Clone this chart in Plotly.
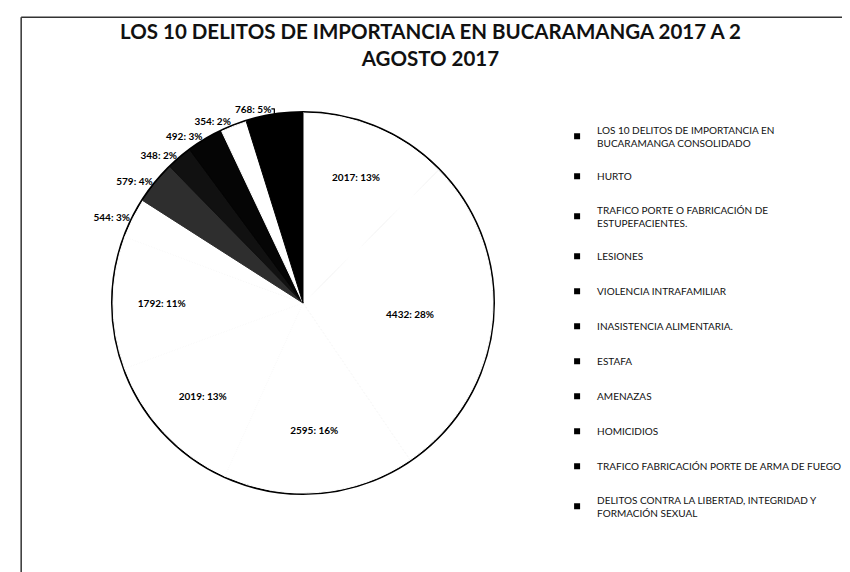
import plotly.graph_objects as go

categories = [
    "LOS 10 DELITOS DE IMPORTANCIA EN<br>BUCARAMANGA CONSOLIDADO",
    "HURTO",
    "TRAFICO PORTE O FABRICACIÓN DE<br>ESTUPEFACIENTES.",
    "LESIONES",
    "VIOLENCIA INTRAFAMILIAR",
    "INASISTENCIA ALIMENTARIA.",
    "ESTAFA",
    "AMENAZAS",
    "HOMICIDIOS",
    "TRAFICO FABRICACIÓN PORTE DE ARMA DE FUEGO",
    "DELITOS CONTRA LA LIBERTAD, INTEGRIDAD Y<br>FORMACIÓN SEXUAL",
]
values = [2017, 4432, 2595, 2019, 1792, 544, 579, 348, 492, 354, 768]
slice_colors = ["#ffffff", "#ffffff", "#ffffff", "#ffffff", "#ffffff", "#ffffff",
                "#2e2e2e", "#111111", "#050505", "#ffffff", "#000000"]
text_positions = ["inside", "inside", "inside", "inside", "inside",
                  "outside", "outside", "outside", "outside", "outside", "outside"]

title_text = "LOS 10 DELITOS DE IMPORTANCIA EN BUCARAMANGA 2017 A 2<br>AGOSTO 2017"

pie_domain = dict(x=[0.1235, 0.5706], y=[0.152, 0.8164])

fig = go.Figure()

# black disc behind the pie gives the outer rim
fig.add_trace(go.Pie(
    values=[1], labels=["rim"], domain=pie_domain, sort=False,
    marker=dict(colors=["#000000"], line=dict(color="#000000", width=4)),
    textinfo="none", hoverinfo="skip", showlegend=False,
))

fig.add_trace(go.Pie(
    labels=categories, values=values, domain=pie_domain,
    sort=False, direction="clockwise", rotation=0,
    marker=dict(colors=slice_colors, line=dict(color=slice_colors, width=1)),
    texttemplate="<b>%{value:d}: %{percent:.0%}</b>",
    textposition=text_positions,
    insidetextorientation="horizontal",
    insidetextfont=dict(family="Lato", size=10, color="#000000"),
    outsidetextfont=dict(family="Lato", size=10, color="#000000"),
    showlegend=False,
))

# legend entries (black square keys, as in the printed chart)
for i, name in enumerate(categories):
    fig.add_trace(go.Scatter(
        x=[None], y=[None], mode="markers", name=name,
        legendgroup="g%d" % i,
        marker=dict(symbol="square", size=6, color="#000000"),
        showlegend=True,
    ))

fig.update_xaxes(visible=False)
fig.update_yaxes(visible=False)

frame_lines = [
    dict(type="line", xref="paper", yref="paper", x0=0.0155, x1=0.0155, y0=0.004, y1=0.984),
    dict(type="line", xref="paper", yref="paper", x0=0.0155, x1=1.0, y0=0.984, y1=0.984),
    dict(type="line", xref="paper", yref="paper", x0=0.0155, x1=1.0, y0=0.004, y1=0.004),
]
for s in frame_lines:
    s["line"] = dict(color="#333333", width=1.5)

fig.update_layout(
    width=850, height=572,
    margin=dict(l=0, r=0, t=0, b=0),
    paper_bgcolor="#ffffff",
    plot_bgcolor="#ffffff",
    title=dict(text="<b>" + title_text + "</b>", x=0.497, xanchor="center",
               y=0.945, yanchor="top",
               font=dict(family="Lato", size=20.5, color="#111111")),
    legend=dict(x=0.646, y=0.81, xanchor="left", yanchor="top",
                font=dict(family="Lato", size=10, color="#111111"),
                tracegroupgap=16, itemwidth=30,
                bgcolor="rgba(0,0,0,0)", itemclick=False),
    shapes=frame_lines,
)

fig.write_html("out.html")
